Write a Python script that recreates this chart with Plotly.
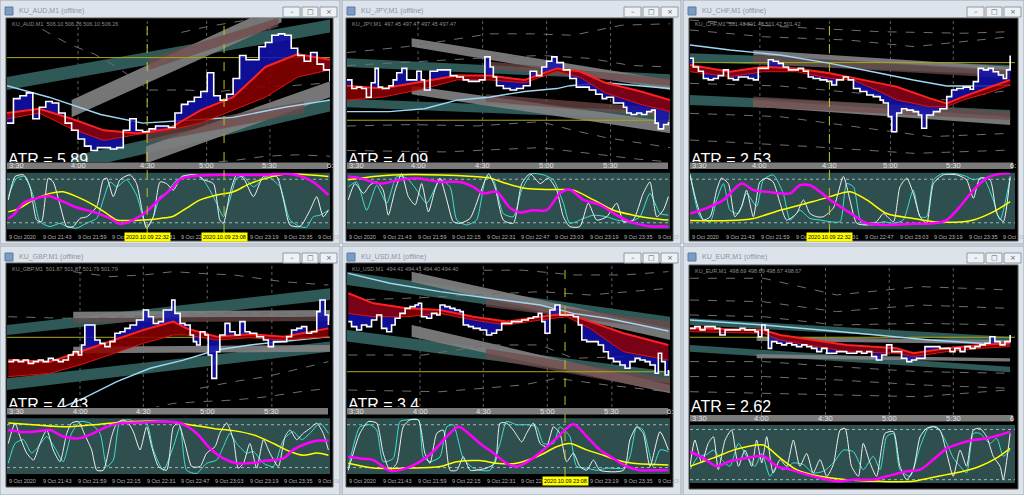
import plotly.graph_objects as go

# ---------------- data (bar index 0..100 across each chart, values in % of chart height) ----------------
AUD_TITLE = "KU_AUD,M1 (offline)"
AUD_INFO = "KU_AUD,M1  506.10 506.26 506.10 506.26"
AUD_ATR = "ATR = 5.89"
AUD_PRICE = [(0,27),(2,44),(4,46),(6,48),(8,30),(10,38),(12,42),(14,41),(16,34),(18,27),(20,22),(22,16),(24,11),(26,8),(28,10),(30,10),(32,9),(34,10),(36,22),(38,30),(40,22),(42,21),(44,23),(46,25),(48,25),(50,24),(52,34),(54,40),(56,42),(58,45),(60,49),(62,62),(64,46),(66,43),(68,47),(70,58),(72,74),(74,71),(76,71),(78,80),(80,83),(82,88),(84,89),(86,88),(88,79),(90,74),(92,70),(94,76),(96,68),(98,64),(100,56)]
AUD_RED_X = [0,10,20,30,40,50,60,70,80,90,100]
AUD_RED_TOP = [34,37,30,22,20,23,36,45,66,75,71]
AUD_RED_BOT = [30,34,23,15,19,22,27,36,45,59,64]
AUD_MA = [(0,53),(13,45),(29,33),(42,27),(56,29),(70,31),(86,38),(100,43)]
AUD_TEAL = [(0,100,59,50,99,90),(20,100,4,-6,44,35)]
AUD_GREY = [(20,85,43,31,110,97),(43,100,11,-1,56,45)]
AUD_BROWN = [(44,84,72,64,100,94),(43,92,22,13,42,34)]
AUD_DASH = [[(11,92),(19,82),(27,75),(34,66),(41,55),(44,50)],[(44,50),(55,50),(66,49),(77,52),(88,53),(100,55)],[(54,90),(62,94),(70,97),(78,100)],[(60,-1),(70,1),(80,4),(90,5),(100,4)]]
AUD_HLINE = 72.5
AUD_VLINES = [43.4, 67.2]
AUD_BOXES = ["2020.10.09 22:32", "2020.10.09 23:08"]
AUD_TICKS = [0,22,43.4,61.8,81.4,100]
AUD_TICK_LABELS = ["3:30","4:00","4:30","5:00","5:30","6:"]
AUD_OSC_MAG = [(0.4,18),(2,24),(5,46),(8,53),(13,59),(15,55),(18.5,46),(21.6,38),(26.7,30),(32,18),(35,8),(39,15),(43,30),(47,52),(51.5,76),(53.6,90),(57.7,96),(65,98),(70,98),(80,98),(86.6,100),(90.7,96),(94.8,85),(99.5,61)]
AUD_OSC_YEL = [(0.4,30),(4,37),(8.2,52),(13.3,64),(17.4,67),(21.6,58),(26.7,43),(30.9,27),(34,15),(37,14),(42.2,15),(47.4,18),(51.5,22),(55.6,37),(59.8,52),(64.9,61),(70.1,67),(75.2,82),(80.4,92),(85.6,99),(90.7,99),(99.5,95)]
AUD_OSC_WHT = [(0.4,52),(2.5,95),(5.1,98),(7.1,76),(9.2,15),(10.7,12),(12.8,92),(14.3,85),(16.4,43),(18.5,3),(20.5,3),(22.6,18),(24.7,21),(27.8,40),(29.8,89),(30.9,92),(32.9,58),(35,89),(38.1,98),(40.1,82),(43.2,0),(45.3,21),(47.4,85),(49.4,82),(51.5,70),(54.1,95),(58.7,98),(60.8,89),(63.9,82),(65.9,15),(67,9),(69,64),(71.1,98),(73.2,92),(76.3,58),(79.4,95),(83.5,95),(85.6,52),(87.6,6),(90.7,3),(93.8,33),(95.9,58),(97.9,21),(99.5,33)]
AUD_OSC_TRQ = [(0.4,58),(3,92),(5.6,95),(8.2,58),(10.2,12),(13.3,3),(16.4,9),(18.5,3),(21.6,0),(23.6,6),(25.7,12),(27.8,18),(29.8,52),(31.9,85),(34,76),(37,89),(40.1,61),(43.2,3),(45.3,21),(47.4,58),(49.4,64),(51.5,82),(53.6,92),(56.7,98),(59.8,96),(62.8,70),(64.9,46),(67,21),(69,52),(71.1,92),(73.2,95),(76.3,76),(80.4,95),(84.5,76),(87.6,15),(90.7,3),(92.8,2),(94.8,21),(96.9,24),(99.5,33)]

JPY_TITLE = "KU_JPY,M1 (offline)"
JPY_INFO = "KU_JPY,M1  497.45 497.47 497.45 497.47"
JPY_ATR = "ATR = 4.09"
JPY_PRICE = [(0,57),(1.5,51),(3,52),(4.5,51),(6,45),(7.5,55),(8.7,65),(9.7,52),(11,51),(13,53),(14.3,57),(15.4,62),(17,65),(18.5,57),(20,57),(21.6,63),(23,57),(24,50),(25.7,63),(28,64),(30,64),(32,60),(34,59),(36,57),(37.6,56),(39,56),(41,57),(42.7,73),(44.3,66),(45.3,59),(46.3,53),(48.4,51),(50.5,50),(52.5,51),(54.6,53),(56.7,63),(58.7,60),(60.3,66),(61.8,70),(63.4,73),(65,69),(67,64),(69,58),(71,52),(73,52),(75,50),(77,47),(79,44),(80.4,45),(82.5,41),(84,41),(85.6,38),(86.6,34),(88,33),(89.7,34),(91.2,33),(92.8,35),(94.3,36),(95.4,27),(96.4,23),(98,26),(99.5,28)]
JPY_RED_X = [0,11,24,34,44,55,65,72,80,91,100]
JPY_RED_TOP = [53,51,56,60,60,57,65,63,55,49,43]
JPY_RED_BOT = [43,45,51,57,57,55,63,59,48,40,35]
JPY_MA = [(0,35),(13,35),(24,37),(34,43),(44,45),(55,49),(65,51),(69,53),(80,55),(91,53),(100,51)]
JPY_TEAL = [(0,100,72,66,61,56),(0,100,44,38,35,29)]
JPY_GREY = [(20,100,86,80,57,50),(20,100,53,47,28,20)]
JPY_BROWN = [(43,100,70,65,58,53),(43,100,47,42,37,31)]
JPY_DASH = [[(0,76),(18,80),(30,84),(44,89),(58,89),(70,88),(85,95),(100,96)],[(0,67),(15,69),(40,72),(60,74),(75,72),(88,67),(100,66)],[(0,25),(20,26),(40,25),(60,28),(70,22),(80,17),(100,10)],[(0,8),(30,7),(60,10),(75,6),(90,2),(100,0)]]
JPY_HLINE = 29
JPY_VLINES = []
JPY_BOXES = []
JPY_TICKS = [0,22,42,61.8,81.6]
JPY_TICK_LABELS = ["3:30","4:00","4:30","5:00","5:30"]
JPY_OSC_MAG = [(0.4,95),(4,92),(10.2,82),(16.4,89),(21.6,92),(28.8,85),(35,85),(39.1,76),(42.2,64),(46.3,67),(50.5,37),(53.6,29),(57.7,33),(61.8,33),(65.9,64),(69,71),(73.2,52),(78.3,43),(83.5,24),(87.6,12),(92.8,4),(99.5,3)]
JPY_OSC_YEL = [(0.4,89),(8.2,95),(14.3,98),(28.8,98),(39.1,95),(44.3,92),(49.4,82),(55.6,73),(63.9,71),(70.1,70),(76.3,52),(82.5,33),(88.6,24),(94.8,18),(99.5,15)]
JPY_OSC_WHT = [(0.4,52),(2.5,82),(5.1,64),(7.1,79),(9.2,85),(11.2,70),(12.8,24),(14.9,70),(16.9,100),(19,58),(21.1,43),(23.1,82),(25.2,30),(27.2,70),(28.8,92),(30.9,52),(32.9,12),(35,9),(38.1,18),(41.2,64),(43.8,100),(45.8,76),(48.4,15),(51.5,9),(54.1,82),(56.7,100),(59.8,82),(62.3,92),(64.9,70),(67,21),(69,3),(72.1,3),(74.7,46),(77.3,15),(80.4,21),(83.5,46),(85.6,12),(88.6,15),(91.7,64),(93.8,85),(95.9,21),(97.9,33),(99.5,58)]
JPY_OSC_TRQ = [(0.4,76),(3,85),(6.1,33),(9.2,79),(12.3,46),(15.4,95),(18.5,92),(21.6,70),(24.7,46),(28.8,89),(31.9,76),(34,15),(37,6),(40.1,15),(43.2,95),(45.3,89),(48.4,27),(51.5,21),(54.1,70),(57.2,100),(60.8,98),(63.9,89),(67,46),(69,9),(73.2,18),(76.3,24),(80.4,21),(83.5,15),(87.6,12),(90.7,21),(93.8,64),(96.9,27),(99.5,24)]

CHF_TITLE = "KU_CHF,M1 (offline)"
CHF_INFO = "KU_CHF,M1  501.48 501.48 501.42 501.42"
CHF_ATR = "ATR = 2.53"
CHF_PRICE = [(0,72),(1,66),(2.6,63),(4.1,58),(5.6,57),(7.2,58),(8.7,60),(10.3,64),(11.8,58),(13.3,57),(14.9,59),(16.4,59),(17.9,58),(19.5,57),(21,65),(22.6,65),(24.1,71),(25.6,70),(27.2,68.5),(28.7,66),(30.3,64),(31.8,64),(33.3,65),(34.9,63),(36.4,59),(37.9,58),(40,57),(42.1,56),(43.6,53.5),(45.1,57),(47.2,59),(48.7,57),(50.3,51),(52.3,49),(54.4,46.5),(56.4,45.4),(58.5,43),(59.5,41),(61,31.5),(62.1,21),(63.6,34),(65.1,37),(66.7,36),(68.7,35),(70.3,32.6),(71.3,23.4),(72.8,32.6),(74.9,35),(76.9,37),(79,45.4),(80.5,50),(82.1,51),(84.1,52),(86.2,50.5),(87.2,55.8),(88.7,65),(90.3,64),(91.8,65),(93.3,62.7),(94.9,60.4),(96.4,58),(97.4,64),(98.5,74)]
CHF_RED_X = [0,12.3,22.6,32.8,43.1,50.3,58.5,63.6,73.8,79,84.1,91.3,98.5]
CHF_RED_TOP = [67.4,62.7,66.2,65,61.6,58.1,54.6,52.3,44.2,40.7,45.4,51.2,56.9]
CHF_RED_BOT = [62.7,59.3,62.7,62.7,58.1,56.9,48.8,43.1,38.4,38.4,43.1,47.7,53.5]
CHF_MA = [(0,81.3),(12.3,77.8),(27.7,74.3),(43.1,68.5),(58.5,61.6),(68.7,56.9),(79,52.8),(89.2,52.8),(98.5,53.5)]
CHF_TEAL = [(0,98.5,75.5,69.7,67.4,60.4),(0,98.5,46.5,39.6,36.1,31.5)]
CHF_GREY = [(19.5,98.5,77.8,74.3,66.2,62.7),(19.5,98.5,43.1,38.4,31.5,25.7)]
CHF_BROWN = [(19.5,98.5,74.3,68.5,63.9,58.1),(19.5,98.5,45.4,38.4,35,29.2)]
CHF_DASH = [[(0,98.6),(27.7,94),(58.5,90.5),(84.1,89.4),(98.5,90.5)],[(0,91.7),(22.6,87),(48.7,84.7),(69,80.1),(98.5,87)],[(0,54.6),(27.7,52.8),(58.5,46.5),(79,43.1),(98.5,50)],[(0,33.8),(27.7,31.5),(58.5,22.2),(74,17.6),(98.5,19.9)],[(0,15.3),(38,10.6),(69,6),(98.5,8.3)]]
CHF_HLINE = 69
CHF_VLINES = [42.9]
CHF_BOXES = ["2020.10.09 22:32"]
CHF_TICKS = [0,21.5,42.9,61.7,81,99.5]
CHF_TICK_LABELS = ["3:30","4:00","4:30","5:00","5:30","6:"]
CHF_OSC_MAG = [(0,27),(5.1,37),(10.3,52),(15.9,82),(19.5,70),(23.6,67),(27.7,64),(30.8,64),(33.8,79),(36.9,79),(40,67),(43.1,52),(46.2,40),(50.3,24),(54.4,9),(60.5,6),(68.7,8),(74.9,9),(79,15),(83.1,40),(87.2,70),(91.3,92),(95.4,100),(98.5,101)]
CHF_OSC_YEL = [(0,14),(12.3,14),(19.5,18),(27.7,33),(37.9,49),(43.1,58),(49.2,67),(54.4,52),(60.5,27),(68.7,18),(74.9,12),(84.1,12),(87.2,15),(93.3,30),(98.5,49)]
CHF_OSC_WHT = [(0,98),(2.1,46),(4.1,15),(6.2,21),(8.2,70),(9.7,92),(11.8,82),(13.8,21),(15.9,40),(17.4,70),(19.5,21),(21.5,85),(23.6,92),(25.6,85),(27.7,46),(29.7,15),(32.8,27),(34.9,52),(36.9,27),(39,21),(41,21),(44.1,37),(47.2,95),(49.2,52),(51.3,9),(54.4,6),(57.4,12),(59.5,27),(62.6,12),(64.6,76),(66.7,92),(68.7,64),(70.8,21),(72.8,9),(74.9,82),(77.9,98),(82.1,98),(85.1,89),(87.2,55),(89.2,92),(92.3,89),(94.4,27),(96.4,12),(98.5,95)]
CHF_OSC_TRQ = [(0,101),(3.1,21),(6.2,12),(8.2,52),(10.3,82),(12.3,33),(14.9,27),(17.4,64),(20.5,40),(22.6,89),(25.6,98),(28.7,64),(30.8,15),(33.8,33),(36.9,18),(40,15),(43.1,12),(46.2,12),(48.2,82),(50.3,76),(52.8,9),(56.4,6),(59.5,12),(62.6,9),(65.6,15),(68.7,70),(70.8,21),(72.8,21),(74.9,89),(77.9,101),(82.1,100),(85.1,95),(87.2,89),(90.3,92),(93.3,52),(95.4,15),(98.5,92)]

GBP_TITLE = "KU_GBP,M1 (offline)"
GBP_INFO = "KU_GBP,M1  501.87 501.87 501.79 501.79"
GBP_ATR = "ATR = 4.43"
GBP_PRICE = [(0.4,31.5),(2,32.6),(3.5,31.5),(5.1,32.6),(6.6,30.3),(8.2,31.5),(9.7,32.6),(11.2,31.5),(12.8,33.8),(14.3,32.6),(15.9,31.5),(17.4,32.6),(19,36.1),(20.5,38.4),(22.1,36.1),(23.1,43.1),(24.1,56.9),(25.7,56.9),(27.2,46.5),(28.8,44.2),(30.3,41.9),(31.9,45.4),(33.4,51.2),(35,52.3),(36.5,54.6),(38.1,56.9),(40.1,60.4),(42.2,67.4),(43.8,62.7),(45.3,58.1),(46.9,59.3),(48.4,67.4),(49.4,67.4),(51,74.3),(52,65),(53.6,58.1),(55.1,56.9),(56.7,50),(57.7,45.4),(58.7,43.1),(59.8,52.3),(61.3,50),(62.3,36.1),(63.4,19.9),(64.9,38.4),(65.9,50),(67.5,58.1),(69,52.3),(70.6,50),(72.1,59.3),(73.7,52.3),(75.2,51.2),(77.3,48.8),(79.4,46.5),(80.9,41.9),(82.5,45.4),(84.5,45.4),(86.6,48.8),(88.1,53.5),(89.7,54.6),(91.2,55.8),(92.8,51.2),(94.3,52.3),(95.9,66.2),(96.9,74.3),(98.5,63.9),(99.5,56.9)]
GBP_RED_X = [0.4,13.3,22.6,31.9,42.2,51.5,55.6,64.9,75.2,85.6,99.5]
GBP_RED_TOP = [32.6,31.5,38.4,45.4,53.5,59.3,54.6,48.8,50.5,48.8,54.6]
GBP_RED_BOT = [21.1,23.4,29.2,36.1,44.2,50,50,46.5,48.1,46.5,48.8]
GBP_MA = [(16.4,-0.9),(23.6,6),(34,17.6),(44.3,26.9),(54.6,32.6),(64.9,39.6),(75.2,43.1),(85.6,45.4),(99.5,48.8)]
GBP_TEAL = [(0,100,56.9,50,82.4,74.3),(0,100,19.9,11.8,45.4,38.4)]
GBP_GREY = [(20.5,100,66.2,61.6,67.4,62.7),(20.5,100,41.9,37.3,43.1,38.4)]
GBP_BROWN = [(20.5,100,61.6,58.6,62.7,59.7)]
GBP_DASH = [[(20.5,94),(31.9,90.5),(42.2,91.7),(51.5,94),(59.8,92.8),(70.1,91.7),(85.6,87),(99.5,84.7)],[(0.4,62.7),(18.5,61.6),(39.1,62.7),(59.8,65),(80.4,65),(99.5,63.9)],[(59.8,13),(70.1,17.6),(80.4,21.1),(90.7,26.9),(99.5,31.5)],[(44.3,-1),(51.5,2.5),(59.8,3.7),(70.1,4.8),(80.4,7.1),(90.7,10.6),(99.5,13)]]
GBP_HLINE = 48.4
GBP_VLINES = []
GBP_BOXES = []
GBP_TICKS = [0,22.6,42.2,62,82]
GBP_TICK_LABELS = ["3:30","4:00","4:30","5:00","5:30"]
GBP_OSC_MAG = [(0.4,80),(4,77),(8.2,77),(13.3,80),(17.4,68),(22.6,65),(26.7,74),(30.9,86),(35,93),(41.2,94),(47.4,96),(53.6,93),(58.7,74),(62.8,46),(67,27),(71.1,18),(76.3,19),(80.4,23),(85.6,27),(88.6,43),(92.8,55),(95.9,60),(99.5,60)]
GBP_OSC_YEL = [(0.4,93),(8.2,90),(18.5,86),(28.8,91),(39.1,96),(49.4,96),(55.6,91),(63.9,83),(70.1,79),(76.3,71),(82.5,55),(87.6,40),(91.7,33),(95.9,37),(99.5,33)]
GBP_OSC_WHT = [(0.4,55),(2.5,93),(4,68),(6.1,37),(8.2,24),(10.2,55),(12.3,80),(14.3,43),(16.4,21),(18.5,74),(20,93),(22.1,96),(24.1,71),(26.2,43),(27.8,5),(29.8,5),(32.4,68),(34,93),(36,99),(37.6,93),(39.1,77),(41.2,43),(43.2,86),(44.8,49),(46.9,12),(49.4,5),(51.5,86),(53,93),(55.1,55),(57.2,12),(59.8,12),(61.8,37),(64.4,49),(65.9,74),(68,93),(70.1,62),(71.6,9),(73.2,18),(75.2,55),(77.3,9),(79.4,62),(81.4,37),(84,12),(86.1,68),(87.6,80),(89.7,62),(91.7,74),(93.8,83),(95.9,93),(97.9,74),(99.5,43)]
GBP_OSC_TRQ = [(0.4,18),(2.5,55),(5.1,62),(7.6,37),(9.7,49),(12.3,68),(14.9,46),(17.4,21),(20,74),(22.6,96),(25.7,93),(28.8,74),(30.9,12),(32.9,24),(35,96),(38.1,99),(40.1,93),(43.2,93),(45.3,43),(48.4,5),(51.5,49),(53.6,86),(55.6,5),(58.7,-1),(61.8,18),(64.9,24),(67,49),(69,74),(71.1,55),(74.2,37),(76.3,40),(79.4,18),(82.5,12),(85.6,62),(88.6,77),(91.2,62),(93.8,74),(96.9,93),(99.5,74)]

USD_TITLE = "KU_USD,M1 (offline)"
USD_INFO = "KU_USD,M1  494.41 494.41 494.40 494.40"
USD_ATR = "ATR = 3.4"
USD_PRICE = [(0.4,59.3),(1.4,55.8),(3,53.5),(4.5,56.9),(6.1,55.8),(7.6,60.4),(9.2,63.9),(10.7,54.6),(12.3,52.3),(13.8,56.9),(14.9,61.6),(16.4,65),(18,68.5),(19.5,69.7),(21.1,70.8),(22.1,72),(23.1,62.7),(24.7,61.6),(26.2,65),(27.8,63.9),(28.8,70.8),(30.3,69.7),(31.9,68.5),(33.4,67.4),(35,66.2),(36,56.9),(37.6,55.8),(39.1,54.6),(41.2,53.5),(43.2,50),(44.8,51.2),(46.3,53.5),(47.9,58.1),(49.4,58.1),(51,59.3),(52.5,59.3),(54.1,60.4),(56.1,61.6),(57.7,62.7),(59.2,65),(60.3,59.3),(61.3,51.2),(62.8,67.4),(64.4,70.8),(65.9,63.9),(68,63.9),(70.1,62.7),(71.6,56.9),(72.7,46.5),(74.2,45.4),(76.3,45.4),(77.8,43.1),(79.4,38.4),(80.9,33.8),(82.5,31.5),(84.5,29.2),(86.1,26.9),(87.6,31.5),(89.2,33.8),(90.7,32.6),(92.3,31.5),(93.8,29.2),(95.4,23.4),(96.4,37.3),(97.4,31.5),(98.5,22.2),(99.5,25.7)]
USD_RED_X = [0.4,8.2,18.5,28.8,39.1,49.4,59.8,68,75.2,85.6,99.5]
USD_RED_TOP = [79,72,68.5,67.4,62.7,59.3,62.7,65,59.3,51.2,43.1]
USD_RED_BOT = [65,62.7,62.7,65,60.4,56.9,60.4,62.7,54.6,38.4,32.6]
USD_MA = [(0.4,92.8),(13.3,85.9),(28.8,80.1),(44.3,75.5),(59.8,70.8),(70.1,65),(80.4,61.6),(90.7,56.9),(99.5,52.8)]
USD_TEAL = [(0,100,94,84.7,62.7,53.5),(0,100,53.5,45.4,24.5,16.4)]
USD_GREY = [(20,100,94,87,54.6,46.5),(20,100,56.9,48.8,15.3,9.5)]
USD_BROWN = [(43,100,75.5,69.7,59.3,53.5),(43,100,40.7,33.8,19.9,10.6)]
USD_DASH = [[(42.2,95),(54.6,95),(70.1,91.7),(85.6,91.7),(99.5,94)],[(0.4,74.3),(18.5,75.5),(39.1,77.8),(59.8,80.1),(75.2,77.8),(99.5,82.4)],[(0.4,36.1),(23.6,36.1),(44.3,43.1),(59.8,43.1),(70.1,33.8),(85.6,35),(99.5,36.1)],[(0.4,11.8),(28.8,10.6),(54.6,15.3),(64.9,19.9),(80.4,15.3),(99.5,10.6)]]
USD_HLINE = 24.5
USD_VLINES = [67.5]
USD_BOXES = ["2020.10.09 23:08"]
USD_TICKS = [0,22.6,42.2,62,82,100]
USD_TICK_LABELS = ["3:30","4:00","4:30","5:00","5:30","6:"]
USD_OSC_MAG = [(0.4,30),(4,27),(8.2,24),(13.3,4),(18.5,9),(22.6,21),(26.7,40),(30.9,68),(34.5,86),(37,77),(41.2,55),(45.3,37),(49.4,18),(52.5,12),(56.7,24),(60.8,43),(64.9,65),(70.1,91),(74.2,68),(78.3,43),(82.5,27),(86.6,12),(90.7,5),(94.8,5),(99.5,5)]
USD_OSC_YEL = [(0.4,18),(8.2,9),(18.5,9),(28.8,12),(34,21),(41.2,23),(46.3,18),(52.5,18),(59.8,33),(64.9,49),(69,55),(74.2,43),(79.4,33),(83.5,24),(88.6,18),(99.5,15)]
USD_OSC_WHT = [(0.4,5),(4,74),(6.6,96),(9.2,93),(11.2,37),(13.3,5),(15.4,18),(17.4,86),(19.5,99),(22.1,99),(24.1,37),(25.7,18),(27.8,74),(29.8,80),(31.9,5),(34,5),(36,30),(38.1,5),(40.1,5),(43.2,9),(45.8,18),(47.4,93),(49.4,93),(51.5,80),(54.1,58),(55.6,74),(57.7,93),(59.8,55),(61.8,49),(63.9,86),(65.9,74),(68,21),(70.1,37),(72.1,12),(74.2,5),(76.3,24),(78.3,5),(85.6,5),(87.6,62),(89.7,86),(91.7,74),(93.8,12),(96.9,77),(99.5,43)]
USD_OSC_TRQ = [(0.4,9),(4,86),(7.1,90),(9.2,80),(11.2,21),(14.3,27),(16.4,96),(18.5,99),(22.1,99),(23.6,30),(25.7,21),(28.8,30),(30.9,86),(32.9,90),(36,27),(39.1,9),(41.2,5),(44.3,5),(47.4,55),(49.4,96),(52.5,90),(55.6,90),(58.7,86),(60.8,55),(63.9,55),(65.9,86),(69,68),(71.1,12),(74.2,9),(77.3,5),(80.4,9),(85.6,9),(87.6,30),(89.7,86),(91.7,80),(94.8,12),(96.9,43),(99.5,40)]

EUR_TITLE = "KU_EUR,M1 (offline)"
EUR_INFO = "KU_EUR,M1  498.69 498.69 498.67 498.67"
EUR_ATR = "ATR = 2.62"
EUR_PRICE = [(0,54.6),(1.5,55.8),(3.1,53.5),(4.6,55.8),(6.2,55.8),(7.7,54.6),(9.2,50),(10.8,53.5),(12.3,53.5),(13.8,53.5),(15.4,54.6),(16.9,53.5),(18.5,53.5),(20,52.3),(21,48.8),(22.1,56.9),(23.1,53.5),(24.1,40.7),(25.1,45.4),(26.7,44.2),(28.2,43.1),(29.7,44.2),(31.3,43.1),(32.8,41.9),(34.4,43.1),(35.9,41.9),(37.4,40.7),(39,38.4),(40.5,40.7),(42.1,37.3),(43.6,37.3),(45.1,38.4),(46.7,38.4),(48.2,37.3),(49.7,37.3),(51.3,38.4),(52.8,37.3),(54.4,38.4),(55.9,35),(57.4,32.6),(59,36.1),(60.5,43.1),(62.1,38.4),(63.6,38.4),(65.1,33.8),(66.7,31.5),(68.2,32.6),(69.7,33.8),(71.3,33.8),(72.3,41.9),(73.8,41.9),(75.4,41.9),(76.9,40.7),(78.5,40.7),(80,38.4),(81.5,40.7),(83.1,38.4),(84.6,41.9),(86.2,40.7),(87.7,41.9),(89.2,43.1),(90.8,44.2),(92.3,48.8),(93.8,45.4),(95.4,43.1),(96.9,45.4),(98.5,50)]
EUR_RED_X = [0,22.6,27.7,48.2,63.6,68.7,79,89.2,98.5]
EUR_RED_TOP = [54.6,53.5,50,43.1,40.7,37.3,40.7,43.1,44.2]
EUR_RED_BOT = [52.3,51.2,46.5,38.4,37.3,35,38.4,40.7,41.9]
EUR_MA = [(0,60.4),(22.6,56.9),(48.2,51.9),(73.8,46.5),(89.2,44.2),(98.5,43.1)]
EUR_TEAL = [(0,98.5,61.6,56.9,48.8,44.9),(0,98.5,43.1,38.4,28,24.1)]
EUR_GREY = [(20.5,98.5,48.8,45.8,46.5,43.5),(20.5,98.5,36.6,33.8,33.8,31.5)]
EUR_BROWN = []
EUR_DASH = [[(0,89.4),(22.6,89.4),(45.1,77.8),(70.8,83.6),(98,81.3)],[(0,74.3),(22.6,73.1),(45.1,66.2),(70.8,70.8),(98,68.5)],[(0,63.9),(22.6,62.7),(45.1,56.9),(70.8,58.1),(98,56.9)],[(0,31.5),(22.6,31.5),(45.1,28),(70.8,24.5),(98,23.4)],[(0,21.1),(22.6,21.1),(45.1,18.8),(70.8,15.3),(98,13)],[(0,10.6),(45.1,8.3),(70.8,7.1),(98,11.8)]]
EUR_HLINE = 48.4
EUR_VLINES = []
EUR_BOXES = []
EUR_TICKS = [0,22,41.7,61.3,81,99]
EUR_TICK_LABELS = ["3:30","4:00","4:30","5:00","5:30","6"]
EUR_OSC_MAG = [(0,54),(4.1,43),(8.2,28),(12.3,37),(17.4,43),(22.6,46),(26.7,28),(30.8,22),(35.9,13),(40,7),(45.1,1),(50.3,4),(56.4,4),(60.5,10),(66.7,19),(70.8,22),(74.9,40),(79,60),(83.1,69),(87.2,75),(91.3,78),(95.4,84),(98.5,90)]
EUR_OSC_YEL = [(0,28),(7.2,43),(13.3,57),(17.4,63),(22.6,66),(27.7,43),(32.8,22),(40,10),(48.2,4),(58.5,1),(68.7,1),(73.8,7),(79,13),(84.1,19),(89.2,28),(94.4,43),(98.5,60)]
EUR_OSC_WHT = [(0,28),(1.5,75),(3.6,34),(5.6,69),(7.2,81),(8.7,22),(10.8,75),(12.8,93),(14.9,28),(16.9,57),(19,28),(20.5,75),(22.1,34),(23.6,81),(25.6,16),(27.7,40),(29.7,28),(31.8,75),(33.8,28),(35.9,51),(37.9,16),(40,40),(42.1,10),(44.1,31),(46.2,93),(47.7,96),(49.7,28),(51.8,10),(53.3,69),(55.4,34),(57.4,10),(60,87),(62.6,90),(64.6,28),(66.7,4),(68.7,22),(70.8,81),(72.8,96),(74.9,99),(76.9,93),(79,51),(81,10),(83.1,57),(85.1,28),(87.2,93),(89.2,96),(91.3,81),(93.3,46),(95.4,28),(96.4,4),(98.5,87)]
EUR_OSC_TRQ = [(0,22),(2.6,46),(5.1,49),(7.2,57),(9.7,40),(12.3,28),(14.9,69),(17.4,46),(20,28),(22.1,51),(24.6,10),(26.7,28),(28.7,22),(31.8,34),(34.9,31),(37.9,16),(41,19),(44.1,34),(47.2,57),(50.3,54),(53.3,22),(56.4,46),(58.5,22),(60.5,81),(62.6,87),(64.6,22),(67.7,10),(70.8,63),(73.3,96),(75.9,99),(79,69),(81,43),(83.1,28),(85.1,16),(87.2,87),(89.2,87),(92.3,69),(94.4,78),(96.4,46),(98.5,57)]

DATE_LABELS = ["9 Oct 2020","9 Oct 21:43","9 Oct 21:59","9 Oct 22:15","9 Oct 22:31","9 Oct 22:47","9 Oct 23:03","9 Oct 23:19","9 Oct 23:35","9 Oct 23"]
DATE_POS = [0,10.6,21.3,31.9,42.6,53.2,63.9,74.5,85.2,95.8]

def panel(prefix, col, row, **extra):
    g = globals()
    d = dict(col=col, row=row)
    for k in ["TITLE","INFO","ATR","PRICE","RED_X","RED_TOP","RED_BOT","MA","TEAL","GREY","BROWN","DASH",
              "HLINE","VLINES","BOXES","TICKS","TICK_LABELS","OSC_MAG","OSC_YEL","OSC_WHT","OSC_TRQ"]:
        d[k.lower()] = g[prefix + "_" + k]
    d.update(extra)
    return d

PANELS = [
    panel("AUD", 0, 0), panel("JPY", 1, 0), panel("CHF", 2, 0),
    panel("GBP", 0, 1), panel("USD", 1, 1),
    panel("EUR", 2, 1, geom=dict(main=(265, 415), bar=(415, 421.5), tl=418.3, osc=(425, 483),
                                   black=(265, 489), date=None),
          main_range=[-5.6, 98.6], levels=[94, 4], atr_y=-0.6),
]

# ---------------- layout geometry ----------------
W, H = 1024, 495
def fx(p): return p / W
def fy(p): return 1 - p / H

COLS = [(0, 340, 7, 330), (342, 681, 347, 670), (683, 1024, 690, 1015)]
ROWS = [dict(win=(0, 244), title=11, btn=(7, 17), black=(18, 241), main=(18, 162), bar=(162.5, 169), tl=165.8,
             osc=(172.7, 229.3), date=237),
        dict(win=(246, 495), title=257, btn=(253, 263), black=(263, 487), main=(263, 407), bar=(408, 414.5),
             tl=411.3, osc=(418.3, 474), date=481)]

TEAL_C = "rgba(47,92,90,0.97)"
GREY_C = "rgba(128,128,128,0.92)"
BROWN_C = "rgba(112,72,72,0.72)"
FONT = "Liberation Sans, Arial, sans-serif"

fig = go.Figure()
layout = dict(width=W, height=H, margin=dict(l=0, r=0, t=0, b=0), paper_bgcolor="#eef1f5",
              plot_bgcolor="rgba(0,0,0,0)", showlegend=False, hovermode=False)
shapes, annots = [], []

def ref(letter, n): return letter if n == 1 else f"{letter}{n}"
def axk(letter, n): return f"{letter}axis" if n == 1 else f"{letter}axis{n}"

def note(**kw):
    kw.setdefault("showarrow", False)
    kw.setdefault("yanchor", "middle")
    kw.setdefault("xanchor", "center")
    annots.append(kw)

def add_pts(pts, n, **kw):
    fig.add_trace(go.Scatter(x=[p[0] for p in pts], y=[p[1] for p in pts], xaxis=ref("x", n), yaxis=ref("y", n),
                             mode="lines", hoverinfo="skip", showlegend=False, **kw))

for p, P in enumerate(PANELS):
    wx0, wx1, cx0, cx1 = COLS[P["col"]]
    R = dict(ROWS[P["row"]])
    R.update(P.get("geom", {}))
    nm, no = 2 * p + 1, 2 * p + 2
    mrange = P.get("main_range", [0, 100])
    levels = P.get("levels", [90, 10])
    atr_y = P.get("atr_y", 1.0)

    layout[axk("x", nm)] = dict(domain=[fx(cx0), fx(cx1)], range=[0, 100], visible=False, anchor=ref("y", nm))
    layout[axk("y", nm)] = dict(domain=[fy(R["main"][1]), fy(R["main"][0])], range=mrange, visible=False,
                                anchor=ref("x", nm))
    layout[axk("x", no)] = dict(domain=[fx(cx0), fx(cx1)], range=[0, 100], visible=False, anchor=ref("y", no))
    layout[axk("y", no)] = dict(domain=[fy(R["osc"][1]), fy(R["osc"][0])], range=[-2, 102], visible=False,
                                anchor=ref("x", no))

    # window frame, chart background, oscillator background
    shapes.append(dict(type="rect", xref="paper", yref="paper", x0=fx(wx0), x1=fx(wx1), y0=fy(R["win"][1]),
                       y1=fy(R["win"][0]), fillcolor="#dde3ea", line=dict(color="#9aa5b1", width=1), layer="below"))
    shapes.append(dict(type="rect", xref="paper", yref="paper", x0=fx(cx0 - 1), x1=fx(cx1 + 3), y0=fy(R["black"][1]),
                       y1=fy(R["black"][0]), fillcolor="#000000", line=dict(color="#555555", width=1), layer="below"))
    shapes.append(dict(type="rect", xref="paper", yref="paper", x0=fx(cx0), x1=fx(cx1), y0=fy(R["osc"][1]),
                       y1=fy(R["osc"][0]), fillcolor="#2f4f4f", line=dict(width=0), layer="below"))
    for lv in levels:
        shapes.append(dict(type="line", xref=ref("x", no), yref=ref("y", no), x0=0, x1=100, y0=lv, y1=lv,
                           line=dict(color="#a2b4b4", width=1, dash="dot"), layer="below"))
    for t in P["ticks"][1:]:
        if t < 99:
            shapes.append(dict(type="line", xref=ref("x", nm), yref="paper", x0=t, x1=t, y0=fy(R["main"][1]),
                               y1=fy(R["main"][0]), line=dict(color="#5e5e5e", width=1, dash="dot"), layer="below"))
    # time axis bar
    shapes.append(dict(type="rect", xref="paper", yref="paper", x0=fx(cx0), x1=fx(cx1 - 2), y0=fy(R["bar"][1]),
                       y1=fy(R["bar"][0]), fillcolor="#7b7b7b", line=dict(width=0), layer="above"))
    # crosshair verticals
    vbot = R["date"] - 4 if R["date"] else R["osc"][1]
    for v in P["vlines"]:
        shapes.append(dict(type="line", xref=ref("x", nm), yref="paper", x0=v, x1=v, y0=fy(vbot),
                           y1=fy(R["main"][0]), line=dict(color="#c2c21e", width=1, dash="dash"), layer="above"))
    # title bar icon + buttons
    ty = R["title"]
    shapes.append(dict(type="rect", xref="paper", yref="paper", x0=fx(wx0 + 5), x1=fx(wx0 + 13), y0=fy(ty + 4),
                       y1=fy(ty - 4), fillcolor="#7d9cc4", line=dict(color="#5a7aa5", width=1), layer="above"))
    b0, b1 = R["btn"]
    for (a, b), g in zip([(57, 40), (38, 22), (20, 3)], ["–", "□", "×"]):
        shapes.append(dict(type="rect", xref="paper", yref="paper", x0=fx(wx1 - a), x1=fx(wx1 - b), y0=fy(b1),
                           y1=fy(b0), fillcolor="#eef1f5", line=dict(color="#8e99a5", width=1), layer="above"))
        note(x=fx(wx1 - (a + b) / 2), y=fy((b0 + b1) / 2), xref="paper", yref="paper", text=g,
             font=dict(family="DejaVu Sans", size=7, color="#555b62"))
    note(x=fx(wx0 + 17), y=fy(ty), xref="paper", yref="paper", text=P["title"], xanchor="left",
         font=dict(family=FONT, size=7, color="#8a96a3"))
    note(x=fx(cx0 + 3), y=fy(R["main"][0] + 6), xref="paper", yref="paper", text=P["info"], xanchor="left",
         font=dict(family=FONT, size=5.5, color="#8c8c8c"))

    # ---- main chart traces ----
    for bands, colr in [(P["teal"], TEAL_C), (P["grey"], GREY_C), (P["brown"], BROWN_C)]:
        for (x0, x1, t0, b0_, t1, b1_) in bands:
            add_pts([(x0, t0), (x1, t1), (x1, b1_), (x0, b0_), (x0, t0)], nm, fill="toself", fillcolor=colr,
                    line=dict(width=0))
    for d in P["dash"]:
        add_pts(d, nm, line=dict(color="#6e6e6e", width=1, dash="dash"))
    add_pts([(0, P["hline"]), (100, P["hline"])], nm, line=dict(color="#a9a914", width=1))
    add_pts(P["ma"], nm, line=dict(color="#9fd8f5", width=1.4))
    red_top = list(zip(P["red_x"], P["red_top"]))
    red_bot = list(zip(P["red_x"], P["red_bot"]))
    add_pts(red_top, nm, line=dict(width=0, color="rgba(0,0,0,0)"))
    add_pts(P["price"], nm, fill="tonexty", fillcolor="rgba(18,18,175,0.85)", line=dict(width=0, shape="hv"))
    add_pts(red_bot, nm, line=dict(color="#e01010", width=1))
    add_pts(red_top, nm, fill="tonexty", fillcolor="rgba(140,0,0,0.85)", line=dict(color="#ff2020", width=2))
    add_pts(P["price"], nm, line=dict(color="#ffffff", width=1.6, shape="hv"))
    fig.add_trace(go.Scatter(x=[0.3], y=[atr_y], xaxis=ref("x", nm), yaxis=ref("y", nm), mode="text",
                             text=[P["atr"]], textposition="middle right", cliponaxis=True, hoverinfo="skip",
                             textfont=dict(family=FONT, size=16, color="#ffffff"), showlegend=False))

    # ---- oscillator traces ----
    add_pts(P["osc_trq"], no, line=dict(color="#40e0d0", width=1, shape="spline", smoothing=0.6))
    add_pts(P["osc_wht"], no, line=dict(color="#f0f0f0", width=1, shape="spline", smoothing=0.6))
    add_pts(P["osc_yel"], no, line=dict(color="#ffff00", width=1.5, shape="spline", smoothing=0.8))
    add_pts(P["osc_mag"], no, line=dict(color="#ff00ff", width=2.5, shape="spline", smoothing=0.8))

    # ---- text labels ----
    for i, (t, lab) in enumerate(zip(P["ticks"], P["tick_labels"])):
        note(x=t, y=fy(R["tl"]), xref=ref("x", nm), yref="paper", text=lab,
             xanchor="left" if i == 0 else "center", font=dict(family=FONT, size=7.5, color="#e2e2e2"))
    if R["date"]:
        for pos, lab in zip(DATE_POS, DATE_LABELS):
            note(x=pos, y=fy(R["date"]), xref=ref("x", no), yref="paper", text=lab, xanchor="left",
                 font=dict(family=FONT, size=5.5, color="#b4b4b4"))
        for v, lab in zip(P["vlines"], P["boxes"]):
            note(x=v, y=fy(R["date"]), xref=ref("x", no), yref="paper", text=lab, bgcolor="#ffff00", borderpad=1,
                 font=dict(family=FONT, size=5.5, color="#000000"))

layout["shapes"] = shapes
layout["annotations"] = annots
fig.update_layout(**layout)
fig.write_html("out.html", config={"displayModeBar": False})

# remove the browser's default page margin so the 1024x495 figure fills the window exactly
with open("out.html", "r", encoding="utf-8") as f:
    html = f.read()
html = html.replace("<head>", "<head><style>html,body{margin:0;padding:0;overflow:hidden;}</style>", 1)
with open("out.html", "w", encoding="utf-8") as f:
    f.write(html)
